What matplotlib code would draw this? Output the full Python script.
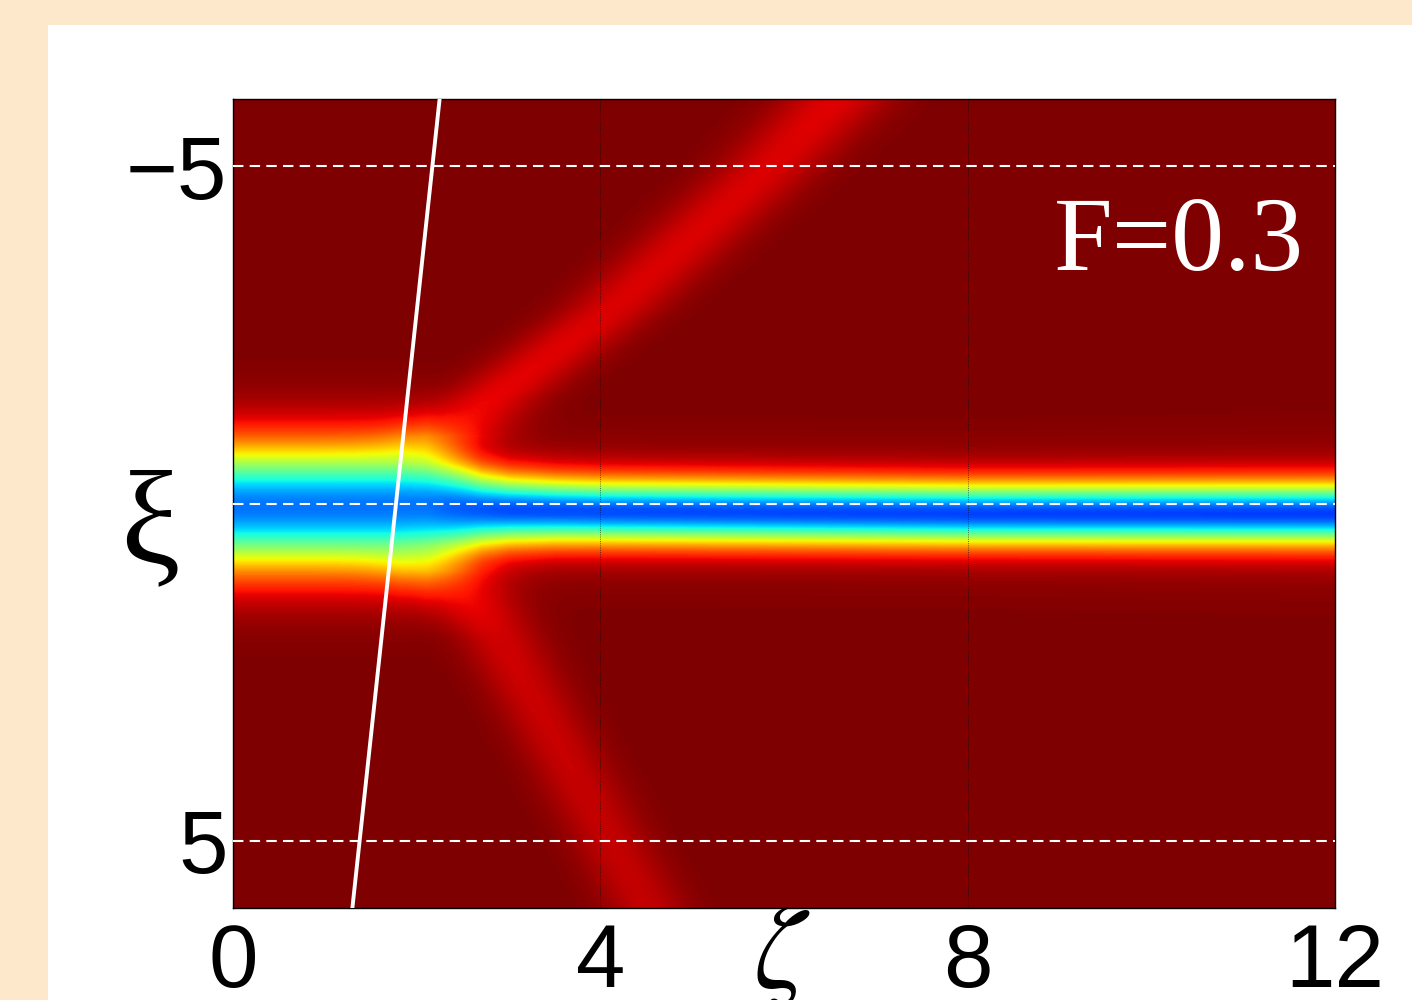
import numpy as np
import matplotlib.pyplot as plt
from matplotlib.patches import Rectangle

plt.rcParams['font.family'] = ['Liberation Sans', 'DejaVu Sans']
plt.rcParams['mathtext.fontset'] = 'stix'

# Haz central a lo largo de zeta
zeta_pts   = [0.0, 1.8, 2.1, 2.4, 2.7, 3.0, 3.5, 4.0, 8.0, 12.0]
centre_pts = [0.05, 0.05, 0.05, 0.07, 0.09, 0.10, 0.11, 0.12, 0.15, 0.15]
width_pts  = [0.87, 0.87, 0.82, 0.68, 0.55, 0.49, 0.46, 0.45, 0.44, 0.44]
peak_pts   = [0.70, 0.70, 0.70, 0.72, 0.73, 0.74, 0.74, 0.74, 0.75, 0.75]
halo_pts   = [0.06, 0.06, 0.06, 0.06, 0.06, 0.06, 0.06, 0.06, 0.06, 0.065]
halo_wid   = [1.25, 1.25, 1.2, 1.1, 1.0, 0.9, 0.85, 0.85, 0.85, 0.9]

# Rama superior: xi -> zeta del centro, amplitud, anchura
up_xi   = [-6.0, -5.0, -2.9, -1.5, -1.0, -0.6]
up_zeta = [6.56, 5.84, 4.13, 2.75, 2.35, 2.10]
up_amp  = [0.085, 0.08, 0.08, 0.09, 0.09, 0.0]
up_wid  = [0.60, 0.58, 0.55, 0.55, 0.60, 0.60]

# Rama inferior
lo_xi   = [0.6, 1.0, 1.5, 2.03, 3.03, 5.0, 6.0]
lo_zeta = [2.10, 2.30, 2.60, 2.91, 3.31, 4.10, 4.50]
lo_amp  = [0.0, 0.09, 0.085, 0.07, 0.065, 0.06, 0.06]
lo_wid  = [0.60, 0.60, 0.52, 0.47, 0.45, 0.45, 0.45]

# Linea blanca y guias
cut_zeta = [2.25, 1.30]
cut_xi = [-6.0, 6.0]
guide_xi = [-5, 0, 5]
xticks = [0, 4, 8, 12]
yticks = [-5, 5]
label_F = 'F=0.3'

# Malla
zeta = np.linspace(0, 12, 700)
xi = np.linspace(-6, 6, 700)
Z, X = np.meshgrid(zeta, xi)

c = np.interp(zeta, zeta_pts, centre_pts)
w = np.interp(zeta, zeta_pts, width_pts)
p = np.interp(zeta, zeta_pts, peak_pts)
h = np.interp(zeta, zeta_pts, halo_pts)
hw = np.interp(zeta, zeta_pts, halo_wid)
campo = p * np.exp(-((X - c) / w) ** 2) + h * np.exp(-((X - c) / hw) ** 2)

zc = np.interp(xi, up_xi, up_zeta)[:, None]
am = np.interp(xi, up_xi, up_amp, left=0.085, right=0.0)[:, None]
wd = np.interp(xi, up_xi, up_wid)[:, None]
campo += am * np.exp(-((Z - zc) / wd) ** 2)

zc = np.interp(xi, lo_xi, lo_zeta)[:, None]
am = np.interp(xi, lo_xi, lo_amp, left=0.0, right=0.06)[:, None]
wd = np.interp(xi, lo_xi, lo_wid)[:, None]
campo += am * np.exp(-((Z - zc) / wd) ** 2)

fig = plt.figure(figsize=(14.12, 10), dpi=100)
fig.patch.set_facecolor('#FEE8CB')
fig.patches.append(Rectangle((48 / 1412, 0), 1, 0.975, transform=fig.transFigure,
                             facecolor='white', edgecolor='none', zorder=-10))

ax = fig.add_axes([0.165, 0.092, 0.7805, 0.809])
ax.imshow(campo, cmap='jet_r', vmin=0, vmax=1, extent=[0, 12, 6, -6],
          aspect='auto', interpolation='bilinear', zorder=1)
ax.set_xlim(0, 12)
ax.set_ylim(6, -6)

ax.plot(cut_zeta, cut_xi, color='white', lw=2.8, zorder=4)
for g in guide_xi:
    ax.axhline(g, color='white', lw=1.5, ls=(0, (5, 3)), zorder=3)
for g in xticks[1:-1]:
    ax.axvline(g, color='black', lw=0.6, ls=':', alpha=0.7, zorder=2)

ax.text(10.3, -3.47, label_F, color='white', fontsize=76,
        family='Liberation Serif', ha='center', va='baseline', zorder=5)

ax.set_xticks(xticks)
ax.set_xticklabels([str(t) for t in xticks])
ax.set_yticks(yticks)
ax.set_yticklabels(['\u22125', '5'])
ax.tick_params(axis='both', length=0, labelsize=64)
ax.tick_params(axis='x', pad=10)
ax.tick_params(axis='y', pad=4)
for s in ax.spines.values():
    s.set_linewidth(1.0)
    s.set_color('black')

fig.text(150 / 1412, 1 - 530 / 1000, '\u03be', fontsize=96, family='Liberation Serif',
         ha='center', va='center')
fig.text(782 / 1412, 1 - 903 / 1000, r'$\zeta$', fontsize=84, ha='center', va='top')

plt.savefig('out.png', dpi=100, facecolor=fig.get_facecolor())
